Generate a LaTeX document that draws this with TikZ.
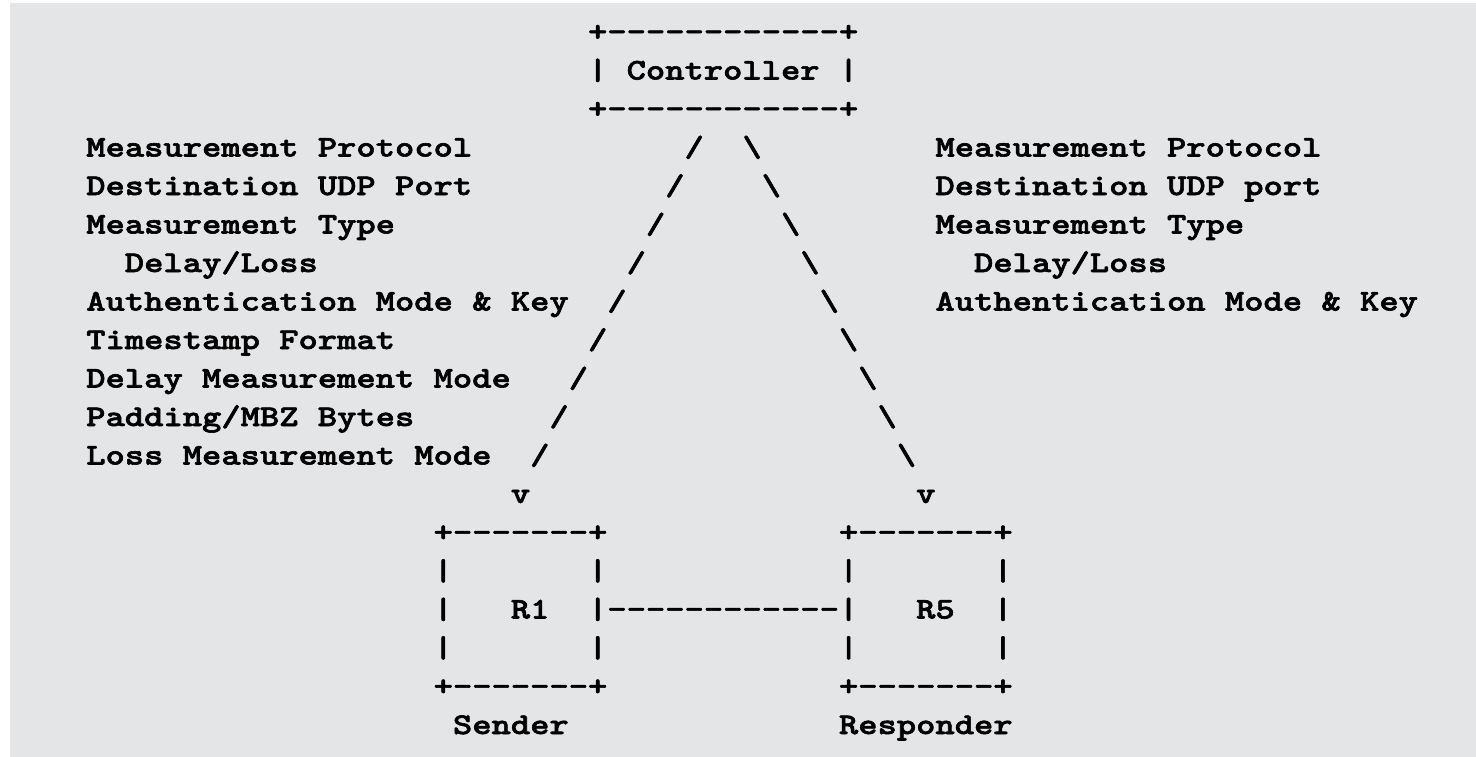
\documentclass[tikz,border=0pt]{standalone}
\usepackage{fontspec}
\usepackage{xcolor}
\usepackage{tikz}
\definecolor{paper}{HTML}{E4E5E7}
\newfontfamily\asciiface{lmmonolt10-bold.otf}[FakeStretch=1.2254,FakeBold=2]
\newcommand{\asciifont}{\asciiface\fontsize{22.5pt}{27pt}\selectfont}
\newcommand{\bx}{\textbar}
\newcommand{\bs}{\textbackslash}

\begin{document}
\begin{tikzpicture}[x=14.475pt,y=-28.875pt,
  asc/.style={anchor=base west,inner sep=0pt,font=\asciifont}]
\useasboundingbox (-4.456,-1.065) rectangle (72.021,18.597);
\fill[paper] (-3.938,-0.987) rectangle (72.021,18.597);
% controller box
\node[asc] (ctltop) at (26,0) {+-{}-{}-{}-{}-{}-{}-{}-{}-{}-{}-{}-{}+};
\node[asc] (ctl) at (26,1) {\bx{} Controller \bx};
\node[asc] (ctlbot) at (26,2) {+-{}-{}-{}-{}-{}-{}-{}-{}-{}-{}-{}-{}+};
% sender side parameters
\node[asc] (lp1) at (0,3) {Measurement Protocol};
\node[asc] (lp2) at (0,4) {Destination UDP Port};
\node[asc] (lp3) at (0,5) {Measurement Type};
\node[asc] (lp4) at (2,6) {Delay/Loss};
\node[asc] (lp5) at (0,7) {Authentication Mode \& Key};
\node[asc] (lp6) at (0,8) {Timestamp Format};
\node[asc] (lp7) at (0,9) {Delay Measurement Mode};
\node[asc] (lp8) at (0,10) {Padding/MBZ Bytes};
\node[asc] (lp9) at (0,11) {Loss Measurement Mode};
% responder side parameters
\node[asc] (rp1) at (44,3) {Measurement Protocol};
\node[asc] (rp2) at (44,4) {Destination UDP port};
\node[asc] (rp3) at (44,5) {Measurement Type};
\node[asc] (rp4) at (46,6) {Delay/Loss};
\node[asc] (rp5) at (44,7) {Authentication Mode \& Key};
% slanted links
\foreach \r in {3,...,11} {
  \node[asc] (sl\r) at ({34-\r},\r) {/};
  \node[asc] (bk\r) at ({\r+31},\r) {\bs};
}
\node[asc] (vl) at (22,12) {v};
\node[asc] (vr) at (43,12) {v};
% R1 and R5
\node[asc] (rone top) at (18,13) {+-{}-{}-{}-{}-{}-{}-{}+};
\node[asc] (rfive top) at (39,13) {+-{}-{}-{}-{}-{}-{}-{}+};
\foreach \r in {14,16} {
  \node[asc] (ra\r) at (18,\r) {\bx};
  \node[asc] (rb\r) at (26,\r) {\bx};
  \node[asc] (rc\r) at (39,\r) {\bx};
  \node[asc] (rd\r) at (47,\r) {\bx};
}
\node[asc] (ra15) at (18,15) {\bx};
\node[asc] (rone) at (22,15) {R1};
\node[asc] (link) at (26,15) {\bx-{}-{}-{}-{}-{}-{}-{}-{}-{}-{}-{}-{}\bx};
\node[asc] (rfive) at (43,15) {R5};
\node[asc] (rd15) at (47,15) {\bx};
\node[asc] (rone bot) at (18,17) {+-{}-{}-{}-{}-{}-{}-{}+};
\node[asc] (rfive bot) at (39,17) {+-{}-{}-{}-{}-{}-{}-{}+};
\node[asc] (snd) at (19,18) {Sender};
\node[asc] (rsp) at (39,18) {Responder};
\end{tikzpicture}
\end{document}
